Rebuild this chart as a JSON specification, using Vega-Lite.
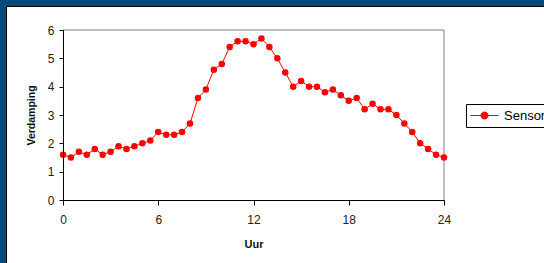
{
  "$schema": "https://vega.github.io/schema/vega-lite/v6.json",
  "width": 381,
  "height": 170,
  "autosize": {"type": "none"},
  "padding": {"left": 63, "top": 30, "right": 100, "bottom": 63},
  "background": "#004B7D",
  "config": {
    "view": {"stroke": null},
    "font": "Liberation Sans",
    "axis": {
      "grid": false,
      "domainColor": "#000000",
      "tickColor": "#000000",
      "labelColor": "#222222",
      "labelFontSize": 12,
      "titleFontWeight": "bold",
      "titleColor": "#111111",
      "labelFont": "Liberation Sans",
      "titleFont": "Liberation Sans"
    }
  },
  "datasets": {
    "sensor": [
      {"uur": 0, "verdamping": 1.6, "serie": "Sensor"},
      {"uur": 0.5, "verdamping": 1.5, "serie": "Sensor"},
      {"uur": 1, "verdamping": 1.7, "serie": "Sensor"},
      {"uur": 1.5, "verdamping": 1.6, "serie": "Sensor"},
      {"uur": 2, "verdamping": 1.8, "serie": "Sensor"},
      {"uur": 2.5, "verdamping": 1.6, "serie": "Sensor"},
      {"uur": 3, "verdamping": 1.7, "serie": "Sensor"},
      {"uur": 3.5, "verdamping": 1.9, "serie": "Sensor"},
      {"uur": 4, "verdamping": 1.8, "serie": "Sensor"},
      {"uur": 4.5, "verdamping": 1.9, "serie": "Sensor"},
      {"uur": 5, "verdamping": 2.0, "serie": "Sensor"},
      {"uur": 5.5, "verdamping": 2.1, "serie": "Sensor"},
      {"uur": 6, "verdamping": 2.4, "serie": "Sensor"},
      {"uur": 6.5, "verdamping": 2.3, "serie": "Sensor"},
      {"uur": 7, "verdamping": 2.3, "serie": "Sensor"},
      {"uur": 7.5, "verdamping": 2.4, "serie": "Sensor"},
      {"uur": 8, "verdamping": 2.7, "serie": "Sensor"},
      {"uur": 8.5, "verdamping": 3.6, "serie": "Sensor"},
      {"uur": 9, "verdamping": 3.9, "serie": "Sensor"},
      {"uur": 9.5, "verdamping": 4.6, "serie": "Sensor"},
      {"uur": 10, "verdamping": 4.8, "serie": "Sensor"},
      {"uur": 10.5, "verdamping": 5.4, "serie": "Sensor"},
      {"uur": 11, "verdamping": 5.6, "serie": "Sensor"},
      {"uur": 11.5, "verdamping": 5.6, "serie": "Sensor"},
      {"uur": 12, "verdamping": 5.5, "serie": "Sensor"},
      {"uur": 12.5, "verdamping": 5.7, "serie": "Sensor"},
      {"uur": 13, "verdamping": 5.4, "serie": "Sensor"},
      {"uur": 13.5, "verdamping": 5.0, "serie": "Sensor"},
      {"uur": 14, "verdamping": 4.5, "serie": "Sensor"},
      {"uur": 14.5, "verdamping": 4.0, "serie": "Sensor"},
      {"uur": 15, "verdamping": 4.2, "serie": "Sensor"},
      {"uur": 15.5, "verdamping": 4.0, "serie": "Sensor"},
      {"uur": 16, "verdamping": 4.0, "serie": "Sensor"},
      {"uur": 16.5, "verdamping": 3.8, "serie": "Sensor"},
      {"uur": 17, "verdamping": 3.9, "serie": "Sensor"},
      {"uur": 17.5, "verdamping": 3.7, "serie": "Sensor"},
      {"uur": 18, "verdamping": 3.5, "serie": "Sensor"},
      {"uur": 18.5, "verdamping": 3.6, "serie": "Sensor"},
      {"uur": 19, "verdamping": 3.2, "serie": "Sensor"},
      {"uur": 19.5, "verdamping": 3.4, "serie": "Sensor"},
      {"uur": 20, "verdamping": 3.2, "serie": "Sensor"},
      {"uur": 20.5, "verdamping": 3.2, "serie": "Sensor"},
      {"uur": 21, "verdamping": 3.0, "serie": "Sensor"},
      {"uur": 21.5, "verdamping": 2.7, "serie": "Sensor"},
      {"uur": 22, "verdamping": 2.4, "serie": "Sensor"},
      {"uur": 22.5, "verdamping": 2.0, "serie": "Sensor"},
      {"uur": 23, "verdamping": 1.8, "serie": "Sensor"},
      {"uur": 23.5, "verdamping": 1.6, "serie": "Sensor"},
      {"uur": 24, "verdamping": 1.5, "serie": "Sensor"}
    ]
  },
  "layer": [
    {
      "data": {"values": [{}]},
      "mark": {"type": "rect", "fill": "#FFFFFF", "stroke": "#000000", "strokeWidth": 1},
      "encoding": {
        "x": {"datum": -3.56, "type": "quantitative", "scale": {"domain": [0, 24], "nice": false, "zero": false},
          "axis": {"zindex": 2, "values": [0, 6, 12, 18, 24], "tickSize": 5, "labelPadding": 9, "labelFlush": false, "labelOverlap": false, "title": "Uur", "titleFontSize": 11, "titlePadding": 13}},
        "x2": {"datum": 31},
        "y": {"datum": 6.83, "type": "quantitative", "scale": {"domain": [0, 6], "nice": false},
          "axis": {"zindex": 2, "values": [0, 1, 2, 3, 4, 5, 6], "tickSize": 4, "labelPadding": 5, "labelFlush": false, "title": "Verdamping", "titleFontSize": 10.5, "titlePadding": 11}},
        "y2": {"datum": -2.6}
      }
    },
    {
      "data": {"values": [{}]},
      "mark": {"type": "rule", "color": "#808080", "strokeWidth": 1},
      "encoding": {
        "y": {"datum": 6, "type": "quantitative",
          "axis": {"zindex": 2, "values": [0, 1, 2, 3, 4, 5, 6], "tickSize": 4, "labelPadding": 5, "labelFlush": false, "title": "Verdamping", "titleFontSize": 10.5, "titlePadding": 11}}
      }
    },
    {
      "data": {"values": [{}]},
      "mark": {"type": "rule", "color": "#808080", "strokeWidth": 1},
      "encoding": {
        "x": {"datum": 24, "type": "quantitative",
          "axis": {"zindex": 2, "values": [0, 6, 12, 18, 24], "tickSize": 5, "labelPadding": 9, "labelFlush": false, "labelOverlap": false, "title": "Uur", "titleFontSize": 11, "titlePadding": 13}}
      }
    },
    {
      "data": {"name": "sensor"},
      "mark": {"type": "line", "strokeWidth": 1, "point": {"filled": true, "size": 42, "opacity": 1}},
      "encoding": {
        "x": {
          "field": "uur",
          "type": "quantitative",
          "scale": {"domain": [0, 24], "nice": false, "zero": false},
          "axis": {"zindex": 2, "values": [0, 6, 12, 18, 24], "tickSize": 5, "labelPadding": 9, "labelFlush": false, "labelOverlap": false, "title": "Uur", "titleFontSize": 11, "titlePadding": 13}
        },
        "y": {
          "field": "verdamping",
          "type": "quantitative",
          "scale": {"domain": [0, 6], "nice": false},
          "axis": {"zindex": 2, "values": [0, 1, 2, 3, 4, 5, 6], "tickSize": 4, "labelPadding": 5, "labelFlush": false, "title": "Verdamping", "titleFontSize": 10.5, "titlePadding": 11}
        },
        "color": {
          "field": "serie",
          "type": "nominal",
          "scale": {"range": ["#FF0000"]},
          "legend": {
            "orient": "none",
            "legendX": 403,
            "legendY": 74,
            "title": null,
            "strokeColor": "#000000",
            "fillColor": "#FFFFFF",
            "padding": 4,
            "symbolType": "M-1,0H3M0.5,0A0.5,0.5,0,1,1,1.5,0A0.5,0.5,0,1,1,0.5,0Z",
            "symbolSize": 196,
            "symbolFillColor": "#FF0000",
            "symbolStrokeColor": "#FF0000",
            "symbolStrokeWidth": 1,
            "symbolOpacity": 1,
            "labelOffset": 19,
            "labelFontSize": 13,
            "labelColor": "#000000",
            "labelFont": "Liberation Sans"
          }
        }
      }
    }
  ]
}
